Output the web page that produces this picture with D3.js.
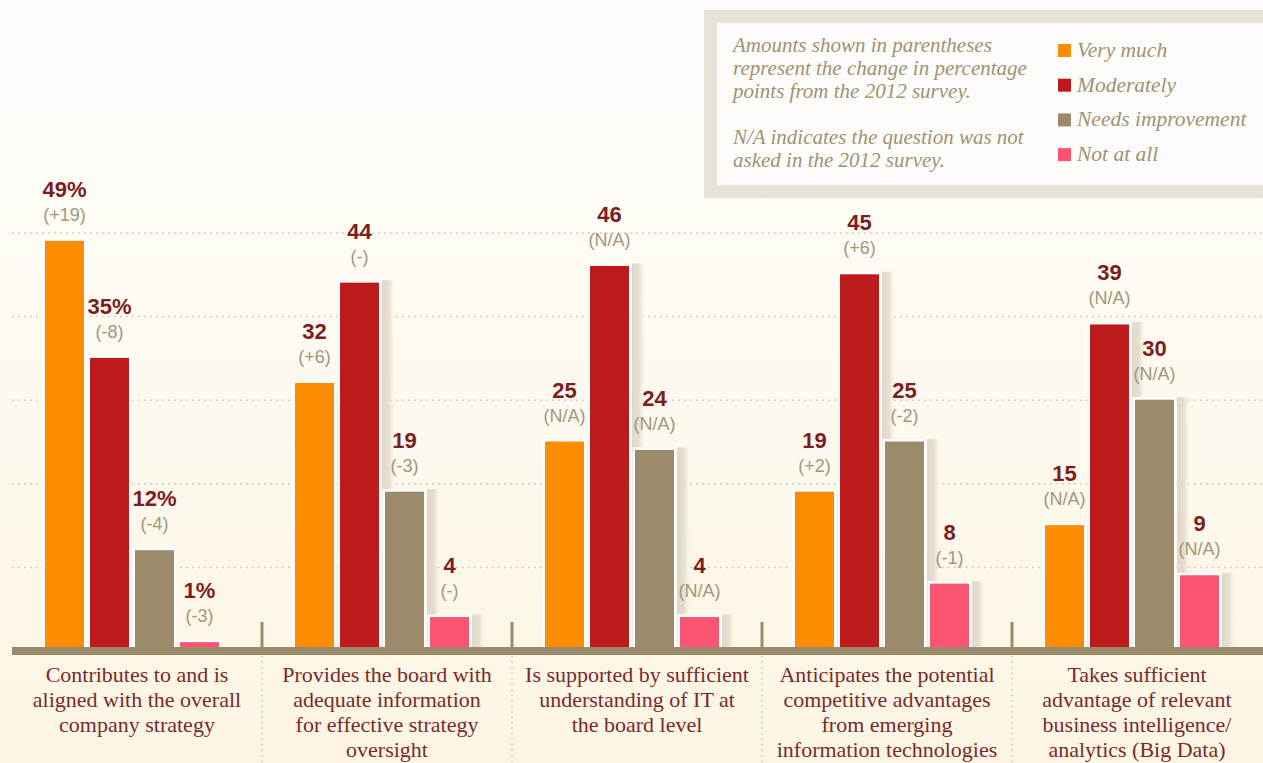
<!DOCTYPE html>
<html>
<head>
<meta charset="utf-8">
<script src="https://cdn.jsdelivr.net/npm/d3@7"></script>
<style>
  body { margin: 0; overflow: hidden; }
  svg { display: block; }
</style>
</head>
<body>
<svg width="1263" height="763"></svg>
<script>
// chart data
const categories = [
    ["Contributes to and is", "aligned with the overall", "company strategy"],
    ["Provides the board with", "adequate information", "for effective strategy", "oversight"],
    ["Is supported by sufficient", "understanding of IT at", "the board level"],
    ["Anticipates the potential", "competitive advantages", "from emerging", "information technologies"],
    ["Takes sufficient", "advantage of relevant", "business intelligence/", "analytics (Big Data)"]
];
const seriesNames = ["Very much", "Moderately", "Needs improvement", "Not at all"];
const veryMuch = [49, 32, 25, 19, 15];
const moderately = [35, 44, 46, 45, 39];
const needsImprovement = [12, 19, 24, 25, 30];
const notAtAll = [1, 4, 4, 8, 9];
const changeVeryMuch = ["(+19)", "(+6)", "(N/A)", "(+2)", "(N/A)"];
const changeModerately = ["(-8)", "(-)", "(N/A)", "(+6)", "(N/A)"];
const changeNeedsImprovement = ["(-4)", "(-3)", "(N/A)", "(-2)", "(N/A)"];
const changeNotAtAll = ["(-3)", "(-)", "(N/A)", "(-1)", "(N/A)"];
const gridTicks = [10, 20, 30, 40, 50];
const noteLines = ["Amounts shown in parentheses", "represent the change in percentage",
    "points from the 2012 survey.", "", "N/A indicates the question was not", "asked in the 2012 survey."];

const colors = ["#fd8c00", "#bd1a1b", "#9c8b6b", "#fb5470"];
const axisColor = "#9c8b6b";
const serif = "'Liberation Serif', 'Times New Roman', serif";

var svg = d3.select("svg"),
    width = +svg.attr("width"),
    height = +svg.attr("height");

var defs = svg.append("defs");
var bg = defs.append("linearGradient").attr("id", "bg")
    .attr("x1", 0).attr("y1", 0).attr("x2", 0).attr("y2", 1);
bg.append("stop").attr("offset", 0).attr("stop-color", "#fffefc");
bg.append("stop").attr("offset", 1).attr("stop-color", "#fcf5e4");

var shade = defs.append("linearGradient").attr("id", "shade")
    .attr("x1", 0).attr("y1", 0).attr("x2", 1).attr("y2", 0);
shade.append("stop").attr("offset", 0).attr("stop-color", "#e0d8c8").attr("stop-opacity", 1);
shade.append("stop").attr("offset", 0.55).attr("stop-color", "#e3dccd").attr("stop-opacity", 0.9);
shade.append("stop").attr("offset", 1).attr("stop-color", "#f3eee2").attr("stop-opacity", 0);

svg.append("rect").attr("width", width).attr("height", height).attr("fill", "url(#bg)");

// rows per group
var valueCols = [veryMuch, moderately, needsImprovement, notAtAll];
var changeCols = [changeVeryMuch, changeModerately, changeNeedsImprovement, changeNotAtAll];
var groups = categories.map((c, i) => ({
    index: i,
    lines: c,
    bars: seriesNames.map((s, j) => ({
        series: j,
        group: i,
        value: valueCols[j][i],
        change: changeCols[j][i]
    }))
}));

var x0 = d3.scaleBand().domain(d3.range(categories.length)).range([12, 1262]);
var x1 = d3.scaleBand().domain(d3.range(seriesNames.length)).range([30, 210])
    .paddingInner(6 / 45).paddingOuter(3 / 45);
var y = d3.scaleLinear().domain([0, 50]).range([650.5, 232.5]);

// dotted gridlines
svg.append("g")
    .attr("transform", "translate(12,0)")
    .call(d3.axisLeft(y).tickValues(gridTicks).tickSize(-(width - 12)).tickFormat(""))
    .call(g => g.select(".domain").remove())
    .call(g => g.selectAll("line")
        .attr("stroke", "#c9c0ae")
        .attr("stroke-width", 1.5)
        .attr("stroke-dasharray", "1.5,4.5"));

var g = svg.selectAll(".group")
    .data(groups)
    .enter().append("g")
    .attr("class", "group")
    .attr("transform", d => `translate(${x0(d.index)},0)`);

// soft shadow on the right of each bar (not on the first group)
g.filter(d => d.index > 0).selectAll(".shadow")
    .data(d => d.bars)
    .enter().append("rect")
    .attr("class", "shadow")
    .attr("x", d => x1(d.series) + x1.bandwidth() + 3)
    .attr("y", d => y(d.value) - 2.5)
    .attr("width", 13)
    .attr("height", d => y(0) - y(d.value) + 2.5)
    .attr("fill", "url(#shade)");

// white frame then bar
g.selectAll(".frame")
    .data(d => d.bars)
    .enter().append("rect")
    .attr("class", "frame")
    .attr("x", d => x1(d.series) - 2.5)
    .attr("y", d => y(d.value) - 2.5)
    .attr("width", x1.bandwidth() + 5)
    .attr("height", d => y(0) - y(d.value) + 2.5)
    .attr("fill", "#fff");

g.selectAll(".bar")
    .data(d => d.bars)
    .enter().append("rect")
    .attr("class", "bar")
    .attr("x", d => x1(d.series))
    .attr("y", d => y(d.value))
    .attr("width", x1.bandwidth())
    .attr("height", d => y(0) - y(d.value))
    .attr("fill", d => colors[d.series]);

g.selectAll(".val")
    .data(d => d.bars)
    .enter().append("text")
    .attr("class", "val")
    .attr("x", d => x1(d.series) + x1.bandwidth() / 2)
    .attr("y", d => y(d.value) - 44)
    .attr("text-anchor", "middle")
    .style("font-family", "'Liberation Sans', Arial, sans-serif")
    .style("font-weight", "bold")
    .style("font-size", "22px")
    .attr("fill", "#7c1d1e")
    .text(d => d.value + (d.group === 0 ? "%" : ""));

g.selectAll(".chg")
    .data(d => d.bars)
    .enter().append("text")
    .attr("class", "chg")
    .attr("x", d => x1(d.series) + x1.bandwidth() / 2)
    .attr("y", d => y(d.value) - 20)
    .attr("text-anchor", "middle")
    .style("font-family", "'Liberation Sans', Arial, sans-serif")
    .style("font-size", "18px")
    .attr("fill", "#a3967a")
    .text(d => d.change);

// baseline band
svg.append("rect")
    .attr("x", 12).attr("y", 647)
    .attr("width", width - 12).attr("height", 8)
    .attr("fill", axisColor);

// group dividers
var dividers = d3.range(1, categories.length).map(i => x0(i));
svg.selectAll(".tick-up")
    .data(dividers)
    .enter().append("line")
    .attr("x1", d => d).attr("x2", d => d)
    .attr("y1", 622).attr("y2", 648)
    .attr("stroke", axisColor).attr("stroke-width", 3);
svg.selectAll(".tick-down")
    .data(dividers)
    .enter().append("line")
    .attr("x1", d => d).attr("x2", d => d)
    .attr("y1", 656).attr("y2", height)
    .attr("stroke", "#cdc5b4").attr("stroke-width", 1.5)
    .attr("stroke-dasharray", "1.5,4");

// category labels
g.append("text")
    .attr("text-anchor", "middle")
    .style("font-family", serif)
    .style("font-size", "22px")
    .attr("fill", "#7a2a2a")
    .selectAll("tspan")
    .data(d => d.lines)
    .enter().append("tspan")
    .attr("x", 125)
    .attr("y", (d, i) => 682 + i * 25)
    .text(d => d);

// legend box
var legend = svg.append("g");
legend.append("rect")
    .attr("x", 704).attr("y", 10).attr("width", 600).attr("height", 188)
    .attr("fill", "#e7e2da");
legend.append("rect")
    .attr("x", 717).attr("y", 23).attr("width", 600).attr("height", 162)
    .attr("fill", "#fdfcfa");

legend.append("text")
    .style("font-family", serif)
    .style("font-style", "italic")
    .style("font-size", "21px")
    .attr("fill", "#a09273")
    .selectAll("tspan")
    .data(noteLines)
    .enter().append("tspan")
    .attr("x", 733)
    .attr("y", (d, i) => 52 + i * 23)
    .text(d => d);

var items = legend.selectAll(".item")
    .data(seriesNames)
    .enter().append("g")
    .attr("transform", (d, i) => `translate(1058,${44 + i * 34.7})`);
items.append("rect")
    .attr("width", 13).attr("height", 13)
    .attr("fill", (d, i) => colors[i]);
items.append("text")
    .attr("x", 19).attr("y", 13)
    .style("font-family", serif)
    .style("font-style", "italic")
    .style("font-size", "21.5px")
    .attr("fill", "#a09273")
    .text(d => d);
</script>
</body>
</html>
